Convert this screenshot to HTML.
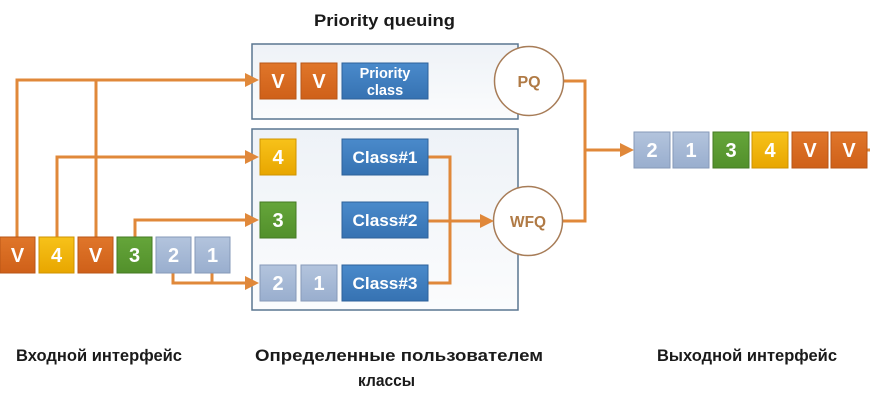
<!DOCTYPE html>
<html>
<head>
<meta charset="utf-8">
<style>
html,body{margin:0;padding:0;background:#fff;}
svg{display:block;}
text{font-family:"Liberation Sans",Arial,sans-serif;}
</style>
</head>
<body>
<svg width="870" height="400" viewBox="0 0 870 400" xmlns="http://www.w3.org/2000/svg">
<defs>
<linearGradient id="cont" x1="0" y1="0" x2="0" y2="1">
<stop offset="0" stop-color="#eef2f7"/><stop offset="1" stop-color="#fbfcfd"/>
</linearGradient>
<linearGradient id="gO" x1="0" y1="0" x2="0" y2="1"><stop offset="0" stop-color="#e0762a"/><stop offset="1" stop-color="#cf6019"/></linearGradient>
<linearGradient id="gY" x1="0" y1="0" x2="0" y2="1"><stop offset="0" stop-color="#f7c21a"/><stop offset="1" stop-color="#e8a600"/></linearGradient>
<linearGradient id="gG" x1="0" y1="0" x2="0" y2="1"><stop offset="0" stop-color="#65a53a"/><stop offset="1" stop-color="#52902b"/></linearGradient>
<linearGradient id="gS" x1="0" y1="0" x2="0" y2="1"><stop offset="0" stop-color="#b3c4dd"/><stop offset="1" stop-color="#99aece"/></linearGradient>
<linearGradient id="gB" x1="0" y1="0" x2="0" y2="1"><stop offset="0" stop-color="#4a8acb"/><stop offset="1" stop-color="#3672b2"/></linearGradient>
</defs>

<!-- title -->
<text x="384.5" y="26" font-size="16.5" font-weight="bold" fill="#1a1a1a" text-anchor="middle" textLength="141" lengthAdjust="spacingAndGlyphs">Priority queuing</text>

<!-- containers -->
<rect x="252" y="44" width="266" height="75" fill="url(#cont)" stroke="#5a7690" stroke-width="1.5"/>
<rect x="252" y="129" width="266" height="181" fill="url(#cont)" stroke="#5a7690" stroke-width="1.5"/>

<!-- connectors -->
<g fill="none" stroke="#e0883a" stroke-width="3" stroke-linejoin="miter">
<path d="M17 237 V80 H247"/>
<path d="M96 237 V80"/>
<path d="M57 237 V157 H247"/>
<path d="M135 237 V220 H247"/>
<path d="M173 273 V283 H247"/>
<path d="M212 273 V283"/>
<path d="M428 157 H450 V283 H428"/>
<path d="M428 221 H482"/>
<path d="M563 81 H585 V221 H563"/>
<path d="M585 150 H622"/>
<path d="M866 150 H870"/>
</g>
<g fill="#e0883a">
<polygon points="259,80 245,73 245,87"/>
<polygon points="259,157 245,150 245,164"/>
<polygon points="259,220 245,213 245,227"/>
<polygon points="259,283 245,276 245,290"/>
<polygon points="494,221 480,214 480,228"/>
<polygon points="634,150 620,143 620,157"/>
</g>

<!-- circles -->
<circle cx="529" cy="81" r="34.5" fill="#fff" stroke="#a77c57" stroke-width="1.5"/>
<text x="529" y="87" font-size="16" font-weight="bold" fill="#b07a45" text-anchor="middle">PQ</text>
<circle cx="528" cy="221" r="34.5" fill="#fff" stroke="#a77c57" stroke-width="1.5"/>
<text x="528" y="227" font-size="16" font-weight="bold" fill="#b07a45" text-anchor="middle" textLength="36" lengthAdjust="spacingAndGlyphs">WFQ</text>

<!-- boxes -->
<g font-size="20" font-weight="bold" fill="#fff" text-anchor="middle">
<!-- input queue -->
<rect x="0" y="237" width="35" height="36" fill="url(#gO)" stroke="#b85617" stroke-width="1"/>
<text x="17.5" y="262" fill="#fff">V</text>
<rect x="39" y="237" width="35" height="36" fill="url(#gY)" stroke="#cf9300" stroke-width="1"/>
<text x="56.5" y="262" fill="#fff">4</text>
<rect x="78" y="237" width="35" height="36" fill="url(#gO)" stroke="#b85617" stroke-width="1"/>
<text x="95.5" y="262" fill="#fff">V</text>
<rect x="117" y="237" width="35" height="36" fill="url(#gG)" stroke="#447a23" stroke-width="1"/>
<text x="134.5" y="262" fill="#fff">3</text>
<rect x="156" y="237" width="35" height="36" fill="url(#gS)" stroke="#8699b8" stroke-width="1"/>
<text x="173.5" y="262" fill="#fff">2</text>
<rect x="195" y="237" width="35" height="36" fill="url(#gS)" stroke="#8699b8" stroke-width="1"/>
<text x="212.5" y="262" fill="#fff">1</text>

<!-- priority -->
<rect x="260" y="63" width="36" height="36" fill="url(#gO)" stroke="#b85617" stroke-width="1"/>
<text x="278" y="88" fill="#fff">V</text>
<rect x="301" y="63" width="36" height="36" fill="url(#gO)" stroke="#b85617" stroke-width="1"/>
<text x="319" y="88" fill="#fff">V</text>
<rect x="342" y="63" width="86" height="36" fill="url(#gB)" stroke="#2d619a" stroke-width="1"/>
<text x="385" y="78" font-size="14.5" fill="#fff">Priority</text>
<text x="385" y="95" font-size="14.5" fill="#fff">class</text>

<!-- classes -->
<rect x="260" y="139" width="36" height="36" fill="url(#gY)" stroke="#cf9300" stroke-width="1"/>
<text x="278" y="164" fill="#fff">4</text>
<rect x="342" y="139" width="86" height="36" fill="url(#gB)" stroke="#2d619a" stroke-width="1"/>
<text x="385" y="163" font-size="17" fill="#fff" textLength="65" lengthAdjust="spacingAndGlyphs">Class#1</text>

<rect x="260" y="202" width="36" height="36" fill="url(#gG)" stroke="#447a23" stroke-width="1"/>
<text x="278" y="227" fill="#fff">3</text>
<rect x="342" y="202" width="86" height="36" fill="url(#gB)" stroke="#2d619a" stroke-width="1"/>
<text x="385" y="226" font-size="17" fill="#fff" textLength="65" lengthAdjust="spacingAndGlyphs">Class#2</text>

<rect x="260" y="265" width="36" height="36" fill="url(#gS)" stroke="#8699b8" stroke-width="1"/>
<text x="278" y="290" fill="#fff">2</text>
<rect x="301" y="265" width="36" height="36" fill="url(#gS)" stroke="#8699b8" stroke-width="1"/>
<text x="319" y="290" fill="#fff">1</text>
<rect x="342" y="265" width="86" height="36" fill="url(#gB)" stroke="#2d619a" stroke-width="1"/>
<text x="385" y="289" font-size="17" fill="#fff" textLength="65" lengthAdjust="spacingAndGlyphs">Class#3</text>

<!-- output queue -->
<rect x="634" y="132" width="36" height="36" fill="url(#gS)" stroke="#8699b8" stroke-width="1"/>
<text x="652" y="157" fill="#fff">2</text>
<rect x="673" y="132" width="36" height="36" fill="url(#gS)" stroke="#8699b8" stroke-width="1"/>
<text x="691" y="157" fill="#fff">1</text>
<rect x="713" y="132" width="36" height="36" fill="url(#gG)" stroke="#447a23" stroke-width="1"/>
<text x="731" y="157" fill="#fff">3</text>
<rect x="752" y="132" width="36" height="36" fill="url(#gY)" stroke="#cf9300" stroke-width="1"/>
<text x="770" y="157" fill="#fff">4</text>
<rect x="792" y="132" width="36" height="36" fill="url(#gO)" stroke="#b85617" stroke-width="1"/>
<text x="810" y="157" fill="#fff">V</text>
<rect x="831" y="132" width="36" height="36" fill="url(#gO)" stroke="#b85617" stroke-width="1"/>
<text x="849" y="157" fill="#fff">V</text>
</g>

<!-- bottom labels -->
<g font-size="16.5" font-weight="bold" fill="#1a1a1a">
<text x="16" y="361" textLength="166" lengthAdjust="spacingAndGlyphs">Входной интерфейс</text>
<text x="255" y="361" textLength="288" lengthAdjust="spacingAndGlyphs">Определенные пользователем</text>
<text x="358" y="386" textLength="57" lengthAdjust="spacingAndGlyphs">классы</text>
<text x="657" y="361" textLength="180" lengthAdjust="spacingAndGlyphs">Выходной интерфейс</text>
</g>
</svg>
</body>
</html>
